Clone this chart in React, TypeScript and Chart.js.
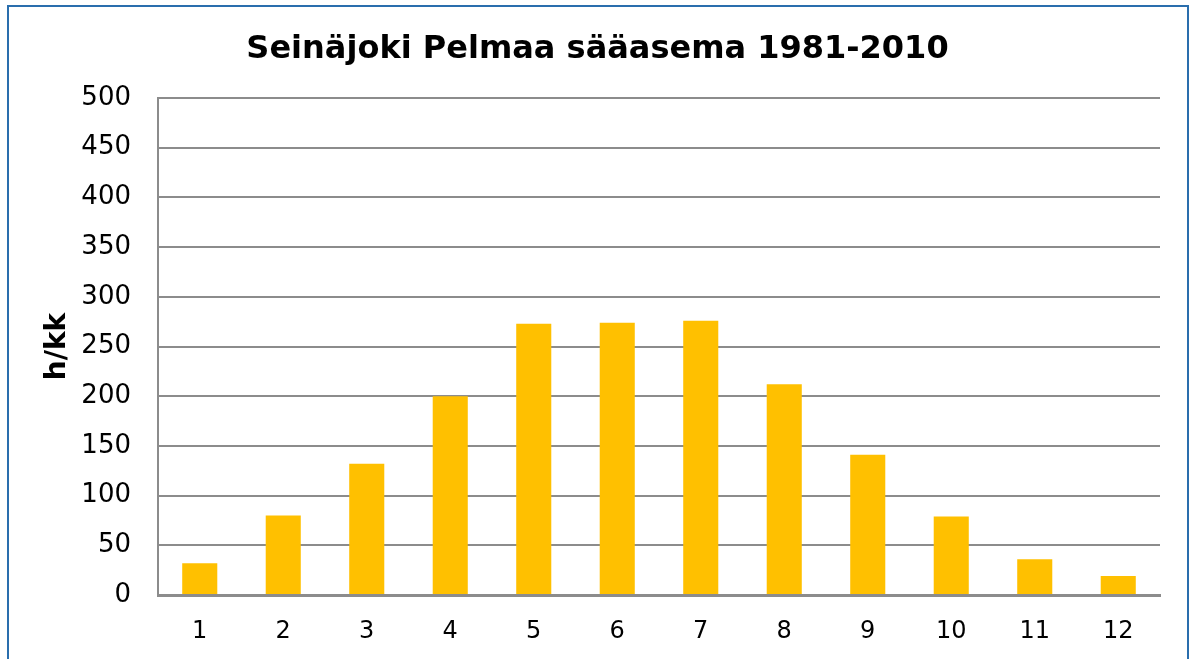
import React, { useEffect, useRef } from "react";
import { Chart, registerables } from "chart.js";

Chart.register(...registerables);

const months = ["1", "2", "3", "4", "5", "6", "7", "8", "9", "10", "11", "12"];
const sunshineHours = [32, 80, 132, 200, 273, 274, 276, 212, 141, 79, 36, 19];
const chartTitle = "Seinäjoki Pelmaa sääasema 1981-2010";
const yAxisTitle = "h/kk";

export default function App() {
  const canvasRef = useRef<HTMLCanvasElement | null>(null);

  useEffect(() => {
    const canvas = canvasRef.current;
    if (!canvas) return;
    const chart = new Chart(canvas, {
      type: "bar",
      data: {
        labels: months,
        datasets: [
          {
            data: sunshineHours,
            backgroundColor: "#FFC000",
            borderWidth: 0,
            barPercentage: 0.42,
            categoryPercentage: 1,
          },
        ],
      },
      options: {
        responsive: false,
        animation: false,
        layout: { padding: { left: 35, right: 35, top: 0, bottom: 0 } },
        plugins: {
          legend: { display: false },
          tooltip: { enabled: false },
          title: {
            display: true,
            text: chartTitle,
            color: "#000000",
            font: { family: "'DejaVu Sans', Verdana, sans-serif", size: 32, weight: "bold" },
            padding: { top: 30, bottom: 29.6 },
          },
        },
        scales: {
          x: {
            grid: { display: false, drawTicks: false },
            border: { display: true, color: "#8c8c8c", width: 3 },
            ticks: {
              color: "#000000",
              padding: 22,
              font: { family: "'DejaVu Sans', Verdana, sans-serif", size: 24 },
            },
            afterFit: (scale: any) => {
              scale.height = 64;
            },
          },
          y: {
            min: 0,
            max: 500,
            ticks: {
              stepSize: 50,
              color: "#000000",
              padding: 27,
              font: { family: "'DejaVu Sans', Verdana, sans-serif", size: 26 },
            },
            grid: { color: "#8c8c8c", lineWidth: 2, drawTicks: false },
            border: { display: true, color: "#8c8c8c", width: 2 },
            title: {
              display: true,
              text: yAxisTitle,
              color: "#000000",
              font: { family: "'DejaVu Sans', Verdana, sans-serif", size: 28, weight: "bold" },
              padding: { top: 6, bottom: 0 },
            },
            afterFit: (scale: any) => {
              scale.width = 123;
            },
          },
        },
      },
    });
    return () => chart.destroy();
  }, []);

  return (
    <div
      style={{
        position: "fixed",
        left: 0,
        top: 0,
        width: 1195,
        height: 659,
        overflow: "hidden",
        background: "#ffffff",
      }}
    >
      <div
        style={{
          position: "absolute",
          left: 7,
          top: 5,
          width: 1178,
          height: 700,
          border: "2px solid #2a6ead",
          boxSizing: "content-box",
        }}
      />
      <canvas
        ref={canvasRef}
        width={1195}
        height={659}
        style={{ position: "absolute", left: 0, top: 0, width: 1195, height: 659 }}
      />
    </div>
  );
}
